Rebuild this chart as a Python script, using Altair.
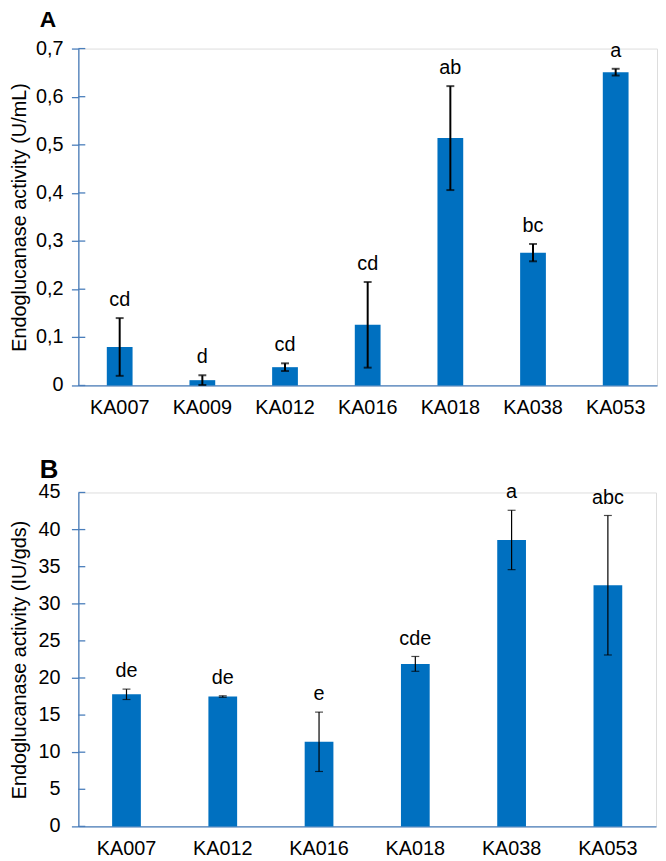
import altair as alt
import pandas as pd

# Panel A data
cats_a = ["KA007", "KA009", "KA012", "KA016", "KA018", "KA038", "KA053"]
vals_a = [0.080, 0.011, 0.038, 0.126, 0.514, 0.276, 0.651]
errs_a = [0.060, 0.010, 0.008, 0.089, 0.108, 0.018, 0.007]
lets_a = ["cd", "d", "cd", "cd", "ab", "bc", "a"]
ticks_a = [0, 0.1, 0.2, 0.3, 0.4, 0.5, 0.6, 0.7]
tlabs_a = ["0", "0,1", "0,2", "0,3", "0,4", "0,5", "0,6", "0,7"]

# Panel B data
cats_b = ["KA007", "KA012", "KA016", "KA018", "KA038", "KA053"]
vals_b = [17.8, 17.5, 11.4, 21.9, 38.6, 32.5]
errs_b = [0.7, 0.1, 4.0, 1.0, 4.0, 9.4]
lets_b = ["de", "de", "e", "cde", "a", "abc"]
ticks_b = [0, 5, 10, 15, 20, 25, 30, 35, 40, 45]
tlabs_b = ["0", "5", "10", "15", "20", "25", "30", "35", "40", "45"]

FONT = "Liberation Sans"
BAR = "#0070C0"
AX = "#4A7EBB"


def panel(cats, vals, errs, lets, ticks, tlabs, letter, ytitle, w, h, barw, errw,
          letter_y, letter_size, lab_dx, title_pad):
    df = pd.DataFrame({
        "cat": cats, "val": vals,
        "lo": [v - e for v, e in zip(vals, errs)],
        "hi": [v + e for v, e in zip(vals, errs)],
        "lab": lets,
    })
    tdf = pd.DataFrame({"t": ticks, "tl": tlabs})
    x = alt.X("cat:N", sort=cats, title=None,
              scale=alt.Scale(paddingInner=0, paddingOuter=0),
              axis=alt.Axis(labelAngle=0, ticks=False, domainColor=AX, domainWidth=1.3,
                            labelFont=FONT, labelFontSize=20, labelColor="black",
                            labelPadding=12))
    yscale = alt.Scale(domain=[ticks[0], ticks[-1]], nice=False)
    y = alt.Y("val:Q", scale=yscale, title=ytitle,
              axis=alt.Axis(values=ticks, grid=False, domainColor=AX, domainWidth=1.3,
                            tickColor=AX, tickSize=7, tickWidth=1.3, labels=False,
                            titleFont=FONT, titleFontSize=20, titleFontWeight="normal",
                            titleColor="black", titlePadding=title_pad))
    base = alt.Chart(df)
    bars = base.mark_bar(color=BAR, size=barw).encode(x=x, y=y)
    rule = base.mark_rule(color="black", strokeWidth=errw).encode(
        x=alt.X("cat:N", sort=cats), y=alt.Y("lo:Q", scale=yscale), y2="hi:Q")
    cap_lo = base.mark_tick(color="black", size=8, thickness=errw).encode(
        x=alt.X("cat:N", sort=cats), y=alt.Y("lo:Q", scale=yscale))
    cap_hi = base.mark_tick(color="black", size=8, thickness=errw).encode(
        x=alt.X("cat:N", sort=cats), y=alt.Y("hi:Q", scale=yscale))
    text = base.mark_text(font=FONT, fontSize=20, color="black", baseline="bottom", dy=-8).encode(
        x=alt.X("cat:N", sort=cats), y=alt.Y("hi:Q", scale=yscale), text="lab:N")
    tbase = alt.Chart(tdf)
    inner_ticks = tbase.mark_rule(color=AX, strokeWidth=1.3).encode(
        y=alt.Y("t:Q", scale=yscale), x=alt.value(0), x2=alt.value(7))
    tick_labels = tbase.mark_text(font=FONT, fontSize=20, color="black",
                                  align="right", baseline="middle").encode(
        y=alt.Y("t:Q", scale=yscale), x=alt.value(lab_dx), text="tl:N")
    head = alt.Chart(pd.DataFrame({"p": [letter]})).mark_text(
        font=FONT, fontSize=letter_size, fontWeight="bold", color="black",
        align="left", baseline="top").encode(
        x=alt.value(-39), y=alt.value(letter_y), text="p:N")
    return alt.layer(bars, rule, cap_lo, cap_hi, text, inner_ticks, tick_labels, head).properties(
        width=w, height=h)


a = panel(cats_a, vals_a, errs_a, lets_a, ticks_a, tlabs_a, "A",
          "Endoglucanase activity (U/mL)", 584, 340, 26, 2, -40, 23, -15, 42)
b = panel(cats_b, vals_b, errs_b, lets_b, ticks_b, tlabs_b, "B",
          "Endoglucanase activity (IU/gds)", 583, 337, 29, 1.2, -36, 26, -18, 42)

chart = alt.vconcat(a, b, spacing=38).configure_view(stroke=None).configure(
    background="white", padding={"left": 0, "top": -4, "right": 0, "bottom": 0})

chart.save("out.html", embed_options={"renderer": "svg", "actions": False})
